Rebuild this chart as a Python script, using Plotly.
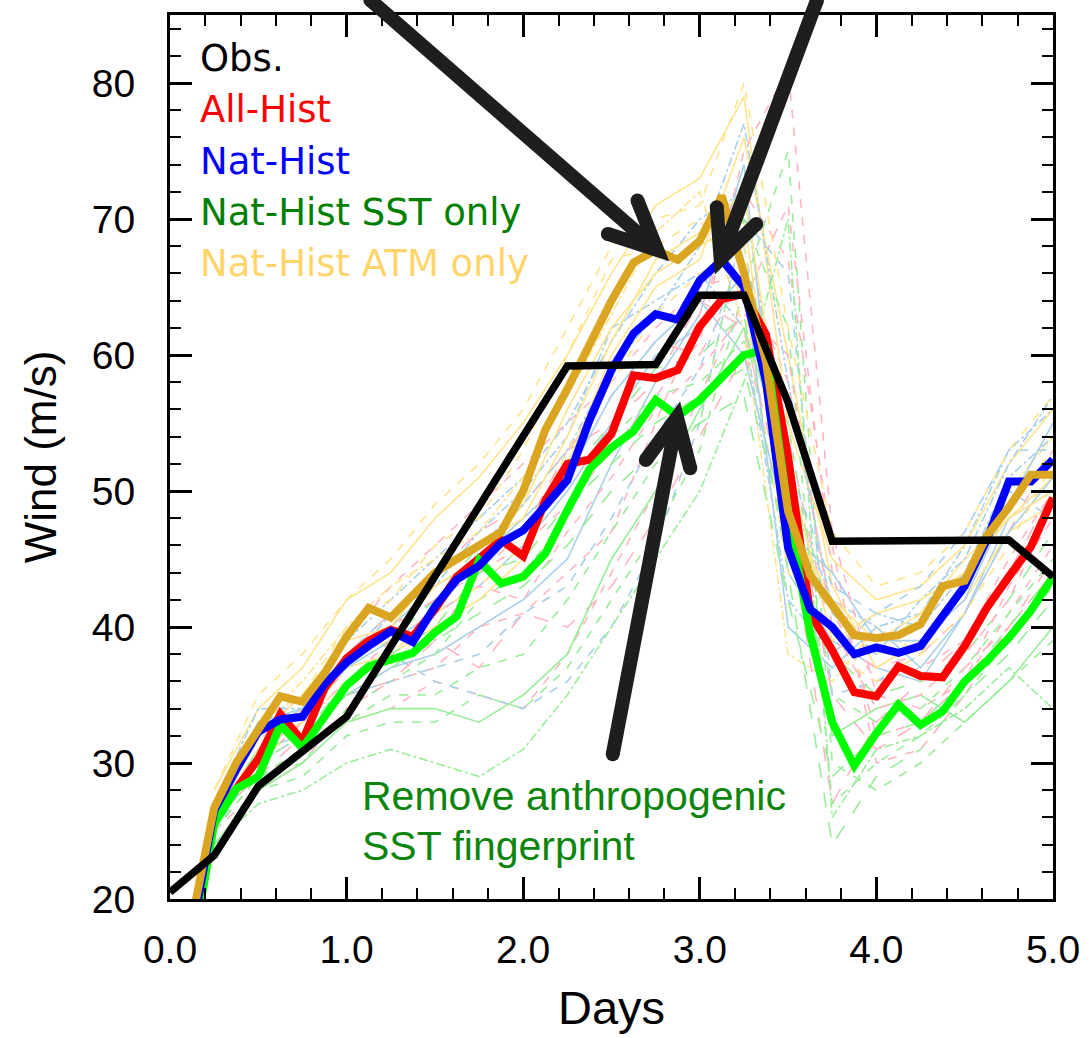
import plotly.graph_objects as go

# ---------------- data ----------------
days = [0.125, 0.25, 0.375, 0.5, 0.625, 0.75, 0.875, 1.0, 1.125, 1.25,
        1.375, 1.5, 1.625, 1.75, 1.875, 2.0, 2.125, 2.25, 2.375, 2.5,
        2.625, 2.75, 2.875, 3.0, 3.125, 3.25, 3.375, 3.5, 3.625, 3.75,
        3.875, 4.0, 4.125, 4.25, 4.375, 4.5, 4.625, 4.75, 4.875, 5.0]

all_hist = [17.0, 26.0, 28.1, 30.3, 33.6, 31.6, 35.5, 37.7, 39.0, 39.8,
            39.3, 41.3, 43.7, 45.0, 46.4, 45.2, 49.3, 52.0, 52.3, 54.2,
            58.5, 58.3, 58.9, 62.1, 64.1, 64.5, 61.5, 52.5, 41.0, 38.3,
            35.2, 34.9, 37.1, 36.4, 36.3, 38.6, 41.4, 43.7, 45.9, 49.5]

nat_hist = [17.5, 26.5, 29.5, 32.3, 33.2, 33.4, 35.8, 37.4, 38.6, 39.7,
            38.9, 41.5, 43.5, 44.5, 46.2, 47.1, 48.9, 50.8, 55.2, 58.9,
            61.6, 63.0, 62.6, 65.5, 67.0, 65.0, 58.0, 45.8, 41.3, 40.0,
            38.0, 38.5, 38.1, 38.6, 40.8, 43.0, 46.4, 50.7, 50.7, 52.3]

nat_sst = [16.0, 25.5, 28.1, 29.0, 32.8, 31.1, 33.4, 35.7, 37.1, 37.6,
           38.1, 39.6, 40.8, 44.9, 43.2, 43.7, 45.4, 48.6, 51.6, 53.2,
           54.4, 56.7, 55.5, 56.7, 58.4, 60.0, 60.4, 48.5, 39.5, 33.0,
           29.8, 32.2, 34.3, 32.8, 33.8, 36.0, 37.5, 39.2, 41.2, 43.7]

nat_atm = [18.5, 26.7, 30.0, 32.5, 34.9, 34.5, 36.6, 39.3, 41.4, 40.7,
           42.3, 44.0, 45.0, 46.0, 47.0, 50.0, 54.5, 57.5, 60.8, 64.0,
           66.8, 67.7, 67.0, 68.4, 71.7, 66.0, 59.5, 48.5, 43.8, 41.5,
           39.4, 39.2, 39.4, 40.2, 43.0, 43.4, 46.7, 48.8, 51.2, 51.2]

obs_days = [0.0, 0.25, 0.5, 1.0, 2.25, 2.75, 3.0, 3.25, 3.5, 3.75, 4.75, 5.0]
obs_wind = [20.5, 23.2, 28.3, 33.4, 59.2, 59.3, 64.4, 64.4, 56.5, 46.3, 46.4, 43.7]

# individual ensemble members (6-hourly)
member_days = [0.25, 0.5, 0.75, 1.0, 1.25, 1.5, 1.75, 2.0, 2.25, 2.5,
               2.75, 3.0, 3.25, 3.5, 3.75, 4.0, 4.25, 4.5, 4.75, 5.0]

all_hist_members = [
    [26, 31, 33, 39, 43, 46, 49, 52, 55, 58, 62, 65, 66, 58, 41, 36, 37, 39, 45, 50],
    [25, 29, 31, 33, 34, 36, 35, 34, 38, 44, 50, 57, 64, 71, 44, 32, 33, 36, 41, 46],
    [27, 32, 34, 38, 41, 44, 47, 49, 53, 57, 61, 60, 66, 54, 39, 37, 38, 41, 47, 53],
    [25, 28, 30, 34, 36, 37, 40, 41, 44, 47, 55, 63, 72, 67, 46, 30, 31, 35, 40, 44],
    [26, 30, 33, 37, 40, 42, 44, 47, 53, 55, 58, 64, 62, 48, 27, 33, 36, 39, 44, 50],
    [27, 30, 34, 37, 41, 39, 44, 46, 49, 53, 57, 61, 75, 81, 47, 35, 34, 36, 43, 48],
    [26, 29, 32, 35, 36, 39, 37, 41, 40, 43, 48, 54, 60, 52, 35, 31, 33, 37, 40, 45],
    [25, 30, 33, 36, 39, 41, 43, 42, 47, 51, 56, 59, 63, 60, 40, 34, 35, 38, 42, 49],
]
nat_hist_members = [
    [27, 33, 35, 39, 42, 45, 48, 51, 55, 61, 66, 70, 72, 50, 42, 40, 41, 46, 53, 56],
    [26, 31, 32, 35, 37, 38, 40, 42, 45, 52, 58, 63, 74, 44, 39, 37, 36, 41, 48, 50],
    [27, 34, 34, 38, 41, 43, 47, 50, 54, 62, 64, 66, 62, 42, 38, 41, 40, 44, 51, 54],
    [25, 31, 33, 36, 38, 36, 35, 34, 36, 40, 46, 55, 70, 66, 35, 36, 38, 43, 50, 48],
    [27, 32, 34, 38, 40, 43, 45, 48, 51, 57, 61, 64, 60, 47, 44, 39, 39, 42, 49, 55],
    [26, 32, 35, 37, 41, 44, 46, 49, 53, 59, 63, 68, 77, 58, 41, 38, 42, 45, 52, 57],
    [27, 33, 34, 37, 39, 41, 43, 46, 50, 55, 60, 62, 66, 40, 37, 40, 37, 41, 47, 51],
    [25, 30, 32, 35, 36, 37, 38, 41, 43, 48, 54, 59, 68, 52, 43, 41, 43, 47, 53, 53],
]
nat_sst_members = [
    [25, 28, 29, 32, 33, 33, 35, 34, 37, 42, 47, 53, 65, 75, 30, 28, 30, 33, 36, 39],
    [26, 30, 33, 37, 39, 42, 46, 47, 51, 55, 59, 60, 63, 44, 24, 29, 31, 35, 38, 42],
    [25, 29, 30, 34, 36, 38, 42, 44, 48, 54, 57, 58, 61, 55, 35, 33, 34, 37, 41, 45],
    [24, 27, 28, 30, 31, 30, 29, 31, 35, 40, 45, 50, 58, 70, 26, 31, 32, 34, 37, 34],
    [26, 30, 32, 36, 38, 40, 44, 45, 49, 52, 55, 57, 59, 46, 38, 35, 36, 38, 42, 47],
    [25, 29, 31, 33, 35, 35, 37, 38, 42, 47, 52, 55, 70, 62, 27, 30, 32, 35, 39, 43],
    [24, 28, 30, 33, 34, 34, 33, 35, 38, 45, 50, 56, 62, 52, 32, 34, 35, 33, 36, 40],
    [26, 31, 32, 35, 37, 39, 41, 43, 46, 50, 53, 55, 57, 42, 29, 32, 33, 36, 40, 44],
]
nat_atm_members = [
    [28, 34, 37, 42, 44, 48, 51, 55, 60, 66, 71, 73, 79, 55, 45, 42, 43, 46, 52, 56],
    [27, 33, 35, 40, 42, 46, 48, 53, 60, 67, 68, 70, 64, 44, 40, 38, 41, 44, 49, 53],
    [26, 31, 33, 37, 38, 40, 42, 45, 52, 60, 65, 67, 76, 60, 43, 37, 39, 42, 47, 49],
    [27, 33, 36, 40, 43, 45, 47, 51, 57, 63, 69, 72, 62, 38, 36, 40, 38, 43, 50, 54],
    [26, 31, 34, 38, 39, 43, 45, 49, 56, 62, 66, 68, 70, 48, 42, 39, 41, 45, 48, 51],
    [28, 35, 38, 42, 45, 49, 52, 56, 62, 68, 70, 71, 80, 62, 47, 43, 44, 47, 53, 57],
    [27, 32, 35, 39, 40, 44, 46, 48, 54, 61, 67, 69, 72, 52, 39, 41, 42, 44, 48, 50],
    [26, 30, 33, 36, 38, 41, 43, 46, 53, 58, 63, 66, 68, 46, 38, 36, 38, 41, 46, 52],
]

legend_labels = ["Obs.", "All-Hist", "Nat-Hist", "Nat-Hist SST only", "Nat-Hist ATM only"]
note_lines = ["Remove anthropogenic", "SST fingerprint"]

x_ticks = [0, 1, 2, 3, 4, 5]
x_ticktext = ["0.0", "1.0", "2.0", "3.0", "4.0", "5.0"]
y_ticks = [20, 30, 40, 50, 60, 70, 80]
y_ticktext = ["20", "30", "40", "50", "60", "70", "80"]

X_RANGE = [0, 5]
Y_RANGE = [20, 85]

# ---------------- figure ----------------
fig = go.Figure()

thin_groups = [
    (all_hist_members, "#FFB6C1", ["dash", "dash", "longdash", "dash", "longdash", "dash", "longdash", "dash"]),
    (nat_hist_members, "#A8D0E6", ["dashdot", "solid", "dashdot", "dash", "solid", "dashdot", "solid", "dash"]),
    (nat_sst_members, "#98EE98", ["dash", "longdash", "dash", "dashdot", "longdash", "dash", "solid", "longdash"]),
    (nat_atm_members, "#FFE48C", ["solid", "dash", "solid", "dashdot", "solid", "dash", "solid", "dash"]),
]
for k in range(8):
    for members, col, dashes in thin_groups:
        fig.add_trace(go.Scatter(x=member_days, y=members[k], mode="lines",
                                 line=dict(color=col, width=1.6, dash=dashes[k]),
                                 hoverinfo="skip", showlegend=False))

thick = [
    (all_hist, "#FF0000"),
    (nat_sst, "#00FF00"),
    (nat_hist, "#0000FF"),
    (nat_atm, "#DAA520"),
]
for vals, col in thick:
    fig.add_trace(go.Scatter(x=days, y=vals, mode="lines",
                             line=dict(color=col, width=8),
                             hoverinfo="skip", showlegend=False))

fig.add_trace(go.Scatter(x=obs_days, y=obs_wind, mode="lines",
                         line=dict(color="#000000", width=7.5),
                         hoverinfo="skip", showlegend=False))

# ---------------- arrows (in data units, drawn as paper shapes) ----------------
def px(d):
    return (d - X_RANGE[0]) / (X_RANGE[1] - X_RANGE[0])

def py(v):
    return (v - Y_RANGE[0]) / (Y_RANGE[1] - Y_RANGE[0])

arrows = [
    # tail, tip, arm1, arm2  (days, m/s)
    ((1.134, 86.1), (2.759, 67.72), (2.479, 68.9), (2.647, 71.36)),
    ((3.664, 86.1), (3.118, 67.07), (3.096, 70.86), (3.320, 69.64)),
    ((2.507, 30.64), (2.871, 55.4), (2.694, 52.28), (2.946, 51.67)),
]
arrow_col = "#1E1E1E"
for tail, tip, a1, a2 in arrows:
    path = (f"M {px(tail[0])},{py(tail[1])} L {px(tip[0])},{py(tip[1])} "
            f"M {px(a1[0])},{py(a1[1])} L {px(tip[0])},{py(tip[1])} L {px(a2[0])},{py(a2[1])}")
    fig.add_shape(type="path", path=path, xref="paper", yref="paper",
                  line=dict(color=arrow_col, width=14))
    for pt in (tail, a1, a2):
        r = 7
        cx, cy = px(pt[0]), py(pt[1])
        dx, dy = r / 891, r / 887
        fig.add_shape(type="circle", xref="paper", yref="paper",
                      x0=cx - dx, x1=cx + dx, y0=cy - dy, y1=cy + dy,
                      fillcolor=arrow_col, line=dict(width=0))

# ---------------- text ----------------
legend_colors = ["#000000", "#FF0000", "#0000FF", "#008000", "#FFD56B"]
legend_y = [56.5, 108, 160, 211, 262]  # pixel centers
for lab, col, yy in zip(legend_labels, legend_colors, legend_y):
    fig.add_annotation(text=lab, xref="paper", yref="paper",
                       x=(198 - 170) / 891, y=(900 - yy) / 887,
                       xanchor="left", yanchor="middle", showarrow=False,
                       font=dict(family="DejaVu Sans, Verdana, sans-serif", size=37, color=col))

for line, yy in zip(note_lines, [797, 847]):
    fig.add_annotation(text=line, xref="paper", yref="paper",
                       x=(362 - 170) / 891, y=(900 - yy) / 887,
                       xanchor="left", yanchor="middle", showarrow=False,
                       font=dict(family="Liberation Sans, Arial, Helvetica, sans-serif",
                                 size=41, color="#0D850D"))

axis_font = dict(family="Liberation Sans, Arial, Helvetica, sans-serif", size=39, color="black")

fig.update_layout(
    width=1092, height=1038,
    margin=dict(l=170, r=31, t=13, b=138),
    plot_bgcolor="white", paper_bgcolor="white",
    showlegend=False,
    xaxis=dict(
        range=X_RANGE, showgrid=False, zeroline=False,
        showline=True, linecolor="black", linewidth=3, mirror="allticks",
        ticks="inside", ticklen=22, tickwidth=2.5, tickcolor="black",
        tickmode="array", tickvals=x_ticks, ticktext=x_ticktext,
        tickfont=axis_font, ticklabelstandoff=14,
        minor=dict(ticks="inside", ticklen=11, tickwidth=2, tickcolor="black",
                   dtick=0.2, tick0=0, showgrid=False),
        title=dict(text="Days", font=dict(family="Liberation Sans, Arial, sans-serif",
                                          size=47, color="black"), standoff=22),
    ),
    yaxis=dict(
        range=Y_RANGE, showgrid=False, zeroline=False,
        showline=True, linecolor="black", linewidth=3, mirror="allticks",
        ticks="inside", ticklen=22, tickwidth=2.5, tickcolor="black",
        tickmode="array", tickvals=y_ticks, ticktext=y_ticktext,
        tickfont=axis_font, ticklabelstandoff=24,
        minor=dict(ticks="inside", ticklen=11, tickwidth=2, tickcolor="black",
                   dtick=2, tick0=20, showgrid=False),
        title=dict(text="Wind (m/s)", font=dict(family="Liberation Sans Narrow, Liberation Sans, Arial, sans-serif",
                                                size=44, color="black"), standoff=22),
    ),
)

fig.write_html("out.html")
